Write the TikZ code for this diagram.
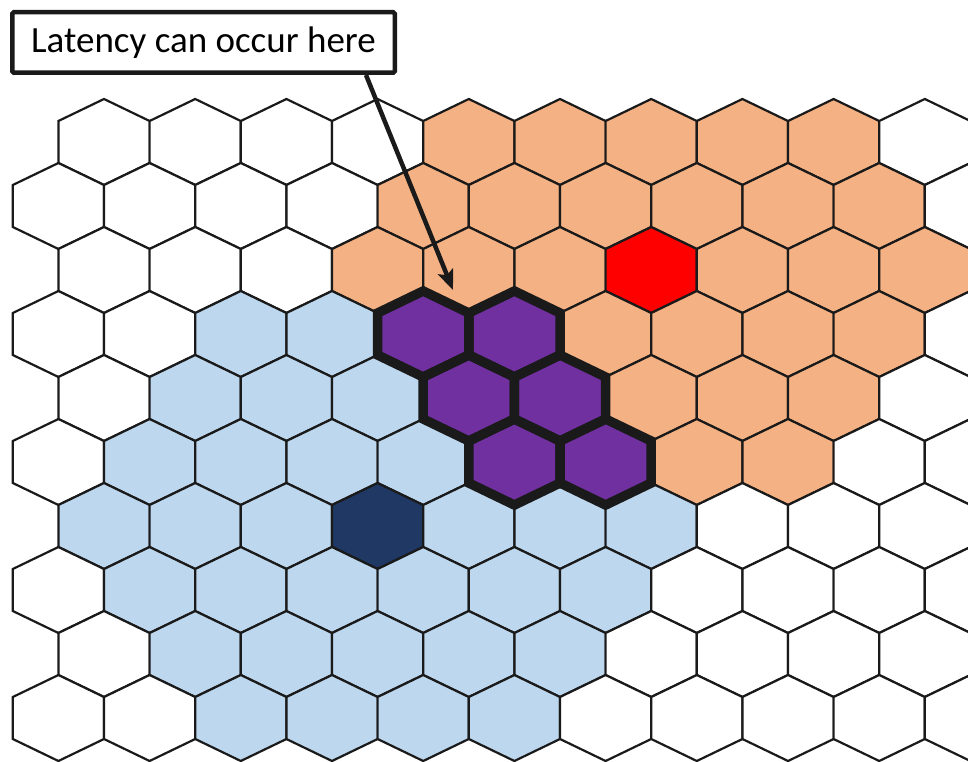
\documentclass[tikz,border=0pt]{standalone}
\usepackage{fontspec}
\setmainfont{Carlito}
\usetikzlibrary{arrows.meta}
\definecolor{hexO}{HTML}{F4B183}
\definecolor{hexB}{HTML}{BDD7EE}
\definecolor{hexN}{HTML}{1F3864}
\definecolor{hexR}{HTML}{FF0000}
\definecolor{hexP}{HTML}{7030A0}
\definecolor{hexW}{HTML}{FFFFFF}
\definecolor{ink}{HTML}{1A1A1A}
\newcommand{\hexpath}[2]{(#1,#2-43) -- (#1+45.6,#2-21) -- (#1+45.6,#2+21) -- (#1,#2+43) -- (#1-45.6,#2+21) -- (#1-45.6,#2-21) -- cycle}
\tikzset{
  hexcell/.style={draw=ink, line width=2.2pt, line join=miter},
  hotcell/.style={draw=ink, line width=9.5pt, line join=miter},
  labelbox/.style={draw=ink, line width=4.5pt, rounded corners=1.5pt, fill=white,
    minimum width=382.5pt, minimum height=60.5pt, inner sep=0pt,
    font=\fontsize{37}{42}\selectfont},
  pointer/.style={draw=ink, line width=4.5pt, -{Stealth[length=20pt, width=16pt, inset=4pt]}}
}
\begin{document}
\begin{tikzpicture}[x=1pt,y=-1pt]
\useasboundingbox (0,0) rectangle (968,762);
\begin{scope}
\clip (0,0) rectangle (968,762);
\foreach \r/\colors in {
  0/{W,W,W,W,O,O,O,O,O,W},
  1/{W,W,W,W,O,O,O,O,O,O,W},
  2/{W,W,W,O,O,O,R,O,O,O},
  3/{W,W,B,B,P,P,O,O,O,O,W},
  4/{W,B,B,B,P,P,O,O,O,W},
  5/{W,B,B,B,B,P,P,O,O,W,W},
  6/{B,B,B,N,B,B,B,W,W,W},
  7/{W,B,B,B,B,B,B,W,W,W,W},
  8/{W,B,B,B,B,B,W,W,W,W},
  9/{W,W,B,B,B,B,W,W,W,W,W}} {
  \pgfmathsetmacro\cy{142+64*\r}
  \pgfmathsetmacro\xo{isodd(\r) ? 58.4 : 104}
  \foreach \c [count=\i from 0] in \colors {
    \pgfmathsetmacro\cx{\xo+91.2*\i}
    \path[hexcell, fill=hex\c] \hexpath{\cx}{\cy};
  }
}
\foreach \cx/\cy in {423.2/334, 514.4/334, 468.8/398, 560/398, 514.4/462, 605.6/462} {
  \path[hotcell] \hexpath{\cx}{\cy};
}
\end{scope}
\node[labelbox] (label) at (203.5,42.5) {Latency can occur here};
\coordinate (tailx) at (366,0);
\coordinate (tip) at (453,290);
\draw[pointer] (label.south -| tailx) -- (tip);
\end{tikzpicture}
\end{document}
